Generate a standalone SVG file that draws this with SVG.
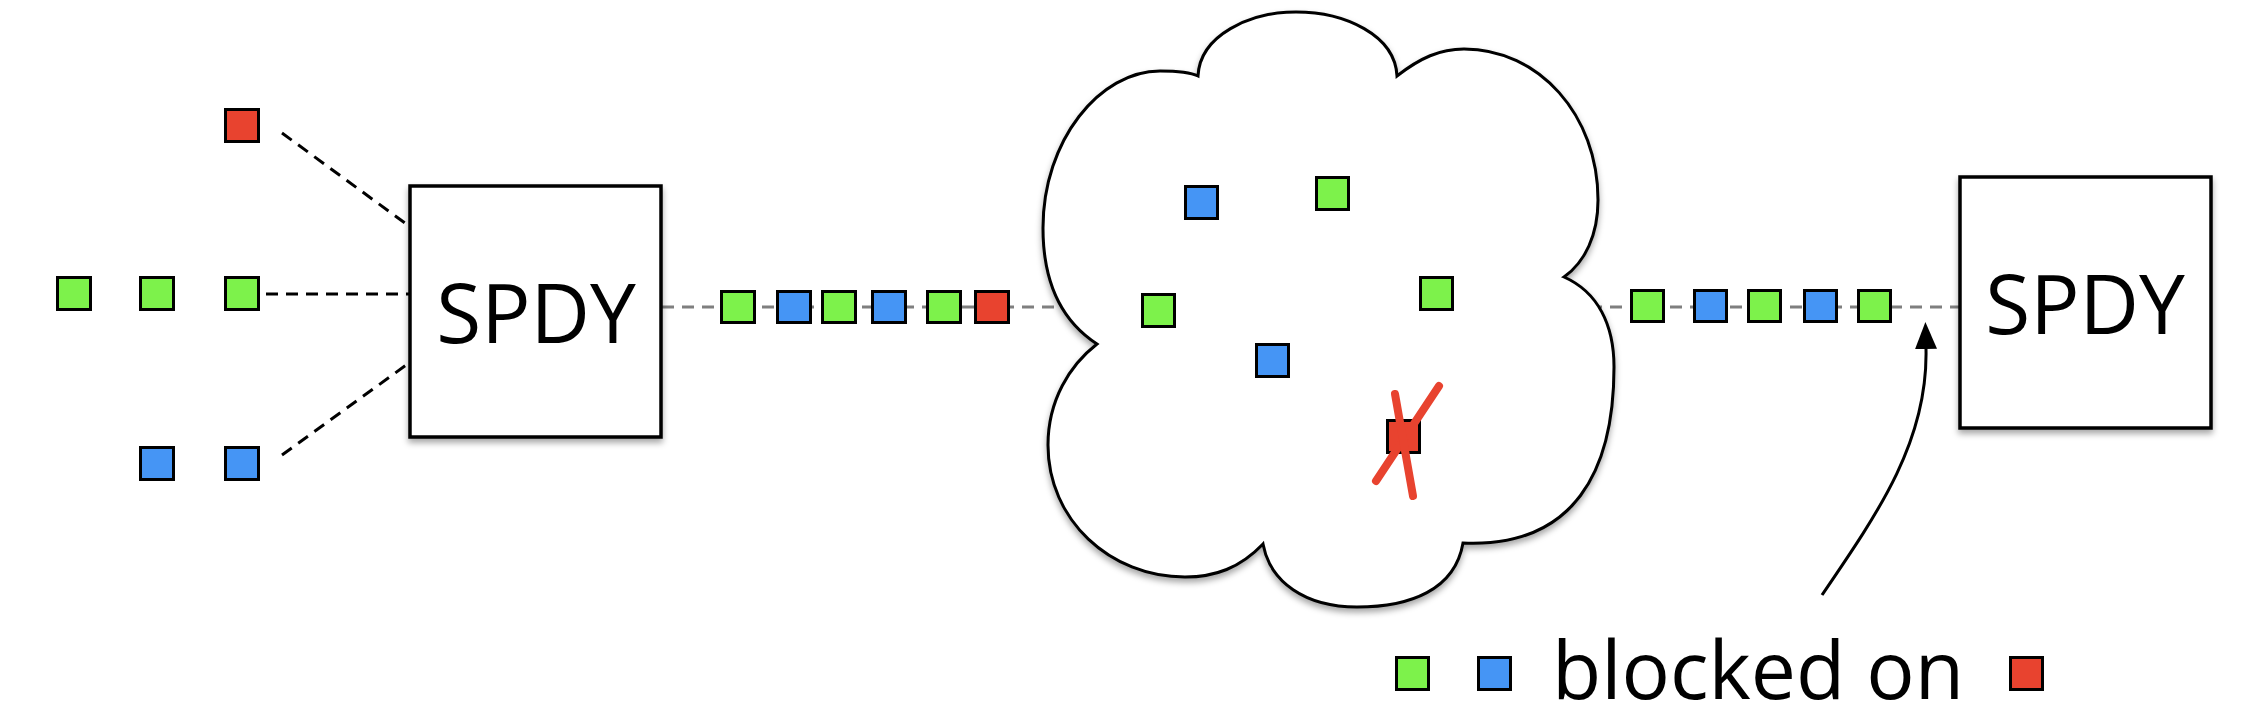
<svg xmlns="http://www.w3.org/2000/svg" width="2246" height="720" viewBox="0 0 2246 720">
<style>
.g{fill:#7df24b;stroke:#000;stroke-width:3}
.b{fill:#4595f5;stroke:#000;stroke-width:3}
.r{fill:#e8432f;stroke:#000;stroke-width:3}
.box{fill:#fff;stroke:#000;stroke-width:3.5}
.lbl{font-family:"Open Sans","DejaVu Sans",sans-serif;font-size:82px;fill:#000;text-anchor:middle}
.leg{font-family:"Open Sans","DejaVu Sans",sans-serif;font-size:80.5px;fill:#000}
.bd{stroke:#000;stroke-width:3;stroke-dasharray:12 8;fill:none}
.gd{stroke:#7f7f7f;stroke-width:3;stroke-dasharray:12 8;fill:none}
.x{stroke:#e8432f;stroke-width:8;stroke-linecap:round;fill:none}
</style>
<defs>
<filter id="sh" x="-10%" y="-10%" width="120%" height="125%">
<feDropShadow dx="0" dy="4" stdDeviation="3" flood-color="#000" flood-opacity="0.35"/>
</filter>
<marker id="ah" markerUnits="userSpaceOnUse" markerWidth="30" markerHeight="24" refX="0" refY="11" orient="auto">
<path d="M0,0 L27,11 L0,22 z" fill="#000"/>
</marker>
</defs>
<rect width="2246" height="720" fill="#fff"/>

<g id="connectors">
<path class="bd" d="M282,133 L409,226"/>
<path class="bd" d="M266,294 L409,294"/>
<path class="bd" d="M282,455 L409,363"/>
<path class="gd" d="M662,307 L1060,307"/>
<path class="gd" d="M1590,307 L1959,307"/>
<path d="M1822,595 C1880,510 1928,440 1926,349" fill="none" stroke="#000" stroke-width="3" marker-end="url(#ah)"/>
</g>

<g id="cloud">
<path filter="url(#sh)" fill="#fff" stroke="#000" stroke-width="3" d="M1198,76 C1200,35 1250,12 1296,12 C1345,12 1395,35 1397,76 C1420,58 1440,49 1464,49 C1539,49 1598,115 1598,200 C1598,235 1585,262 1564,277 C1598,292 1614,325 1614,367 C1614,470 1575,548 1463,543 C1455,590 1410,607 1357,607 C1305,607 1270,582 1263,544 C1240,568 1215,577 1185,577 C1110,577 1048,520 1048,445 C1048,400 1070,365 1097,344 C1060,320 1043,280 1043,228 C1043,140 1100,71 1160,71 C1180,71 1192,73 1198,76 Z"/>
</g>

<g id="spdy-left">
<rect class="box" filter="url(#sh)" x="410" y="186" width="251" height="251"/>
<text class="lbl" x="536" y="343">SPDY</text>
</g>
<g id="spdy-right">
<rect class="box" filter="url(#sh)" x="1960" y="177" width="251" height="251"/>
<text class="lbl" x="2085" y="334">SPDY</text>
</g>

<g id="input-streams">
<rect class="r" x="225.5" y="109.5" width="33" height="32"/>
<rect class="g" x="57.5" y="277.5" width="33" height="32"/>
<rect class="g" x="140.5" y="277.5" width="33" height="32"/>
<rect class="g" x="225.5" y="277.5" width="33" height="32"/>
<rect class="b" x="140.5" y="447.5" width="33" height="32"/>
<rect class="b" x="225.5" y="447.5" width="33" height="32"/>
</g>

<g id="queue-left">
<rect class="g" x="721.5" y="291.5" width="33" height="31"/>
<rect class="b" x="777.5" y="291.5" width="33" height="31"/>
<rect class="g" x="822.5" y="291.5" width="33" height="31"/>
<rect class="b" x="872.5" y="291.5" width="33" height="31"/>
<rect class="g" x="927.5" y="291.5" width="33" height="31"/>
<rect class="r" x="975.5" y="291.5" width="33" height="31"/>
</g>

<g id="cloud-packets">
<rect class="b" x="1185.5" y="186.5" width="32" height="32"/>
<rect class="g" x="1316.5" y="177.5" width="32" height="32"/>
<rect class="g" x="1142.5" y="294.5" width="32" height="32"/>
<rect class="g" x="1420.5" y="277.5" width="32" height="32"/>
<rect class="b" x="1256.5" y="344.5" width="32" height="32"/>
<rect class="r" x="1387.5" y="420.5" width="32" height="32"/>
<path class="x" d="M1376,481 L1439,386"/>
<path class="x" d="M1395,394 L1413,496"/>
</g>

<g id="queue-right">
<rect class="g" x="1631.5" y="290.5" width="32" height="31"/>
<rect class="b" x="1694.5" y="290.5" width="32" height="31"/>
<rect class="g" x="1748.5" y="290.5" width="32" height="31"/>
<rect class="b" x="1804.5" y="290.5" width="32" height="31"/>
<rect class="g" x="1858.5" y="290.5" width="32" height="31"/>
</g>

<g id="legend">
<rect class="g" x="1396.5" y="657.5" width="32" height="32"/>
<rect class="b" x="1478.5" y="657.5" width="32" height="32"/>
<text class="leg" x="1552" y="699">blocked on</text>
<rect class="r" x="2010.5" y="657.5" width="32" height="32"/>
</g>
</svg>
